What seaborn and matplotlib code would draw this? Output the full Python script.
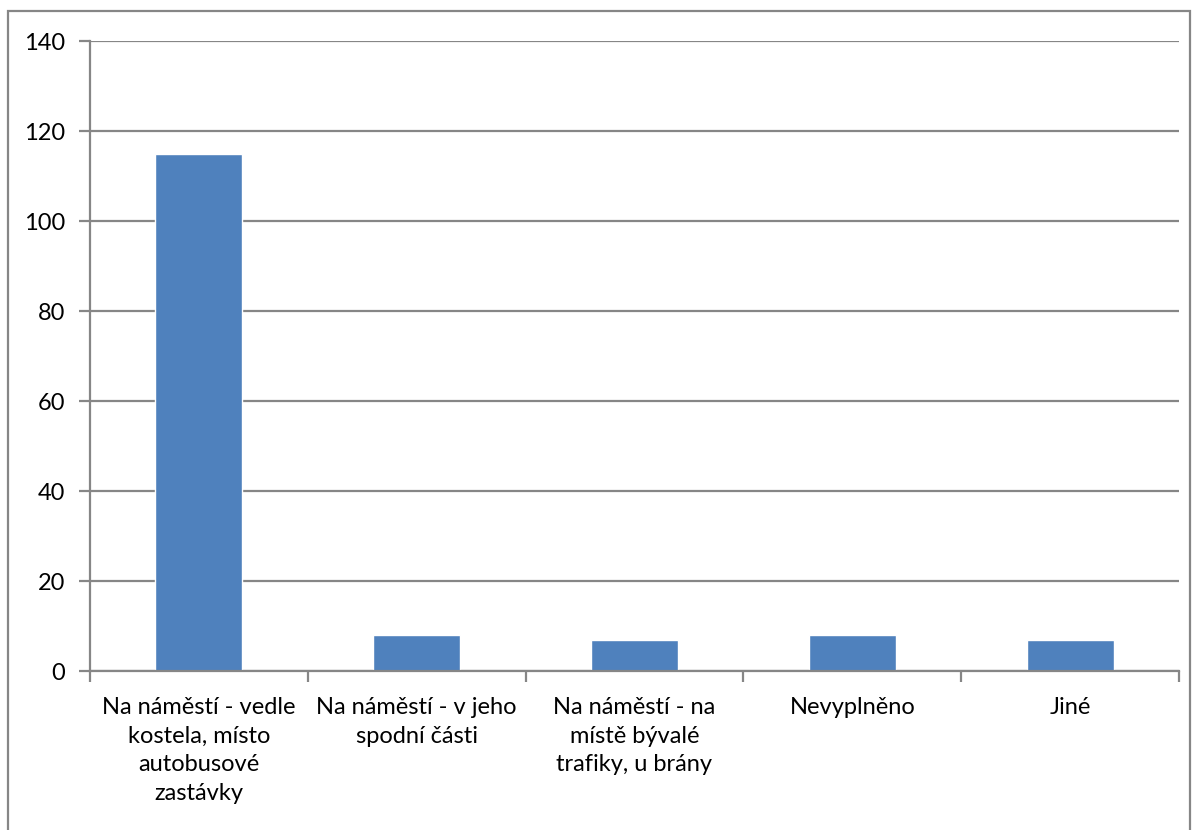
import matplotlib
matplotlib.use("Agg")
import matplotlib.pyplot as plt
import seaborn as sns
import numpy as np
from matplotlib.patches import Rectangle

categories = [
    "Na náměstí - vedle\nkostela, místo\nautobusové\nzastávky",
    "Na náměstí - v jeho\nspodní části",
    "Na náměstí - na\nmístě bývalé\ntrafiky, u brány",
    "Nevyplněno",
    "Jiné",
]
values = [115, 8, 7, 8, 7]
y_ticks = [0, 20, 40, 60, 80, 100, 120, 140]

sns.set_style("white")
plt.rcParams["font.family"] = ["Lato", "DejaVu Sans"]

grey = "#868686"
fig = plt.figure(figsize=(11.98, 8.3), dpi=100)
ax = fig.add_axes([90 / 1198, 1 - 671 / 830, (1179 - 90) / 1198, (671 - 41) / 830])

sns.barplot(x=categories, y=values, color="#4f81bd", saturation=1, width=0.4, ax=ax)

ax.set_ylim(0, 140)
ax.set_xlim(-0.5, 4.5)
ax.set_yticks(y_ticks)
ax.yaxis.grid(True, color=grey, linewidth=1.6)
ax.set_axisbelow(True)

for side in ["top", "right"]:
    ax.spines[side].set_visible(False)
for side in ["left", "bottom"]:
    ax.spines[side].set_color(grey)
    ax.spines[side].set_linewidth(1.6)

ax.tick_params(axis="y", which="major", length=8, width=1.6, color=grey,
               labelsize=17, pad=10, left=True, labelcolor="black")
ax.tick_params(axis="x", which="major", length=0, labelsize=17, pad=19,
               labelcolor="black")
ax.set_xticks(np.arange(-0.5, 5, 1), minor=True)
ax.tick_params(axis="x", which="minor", length=8, width=1.6, color=grey, bottom=True)
for lbl in ax.get_xticklabels():
    lbl.set_horizontalalignment("center")
    lbl.set_linespacing(1.44)
ax.set_xlabel("")
ax.set_ylabel("")

fig.patches.append(Rectangle((8 / 1198, -0.05), (1190 - 8) / 1198, 1.05 - 11 / 830,
                             transform=fig.transFigure, fill=False,
                             edgecolor=grey, linewidth=1.6))

fig.savefig("out.png", dpi=100)
